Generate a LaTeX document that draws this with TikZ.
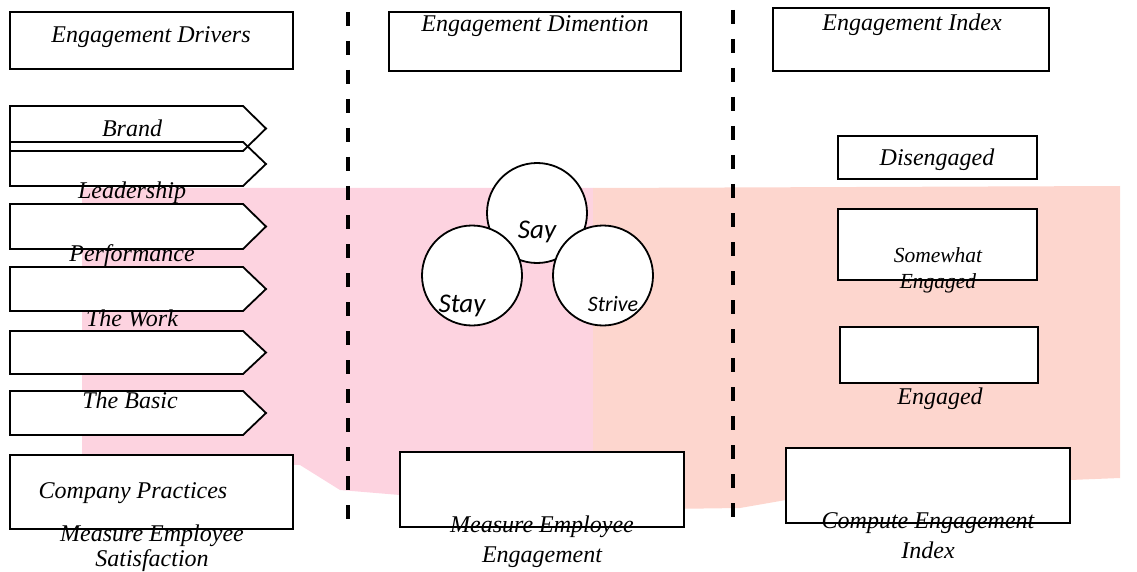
\documentclass[tikz,border=0pt]{standalone}
\usepackage{fontspec}
\setmainfont{Liberation Serif}
\newfontfamily\calib{Carlito}
\usetikzlibrary{positioning}
\definecolor{blush}{RGB}{253,211,224}
\definecolor{salmon}{RGB}{253,214,206}

\begin{document}
\begin{tikzpicture}[
    x=1pt, y=-1pt,
    box/.style={rectangle, draw, line width=1.8pt, fill=white, inner sep=0pt},
    circ/.style={circle, draw, line width=1.8pt, fill=white, minimum size=100pt, inner sep=0pt},
    chev/.style={line width=1.8pt, line join=miter},
    sep/.style={line width=3.2pt, dash pattern=on 14pt off 15pt},
    lbl/.style={font=\fontsize{24}{27}\selectfont\itshape, inner sep=0pt, anchor=base, align=center},
    sml/.style={font=\fontsize{21.5}{26}\selectfont\itshape, inner sep=0pt, anchor=base, align=center},
    dim/.style={font=\fontsize{#1}{#1}\selectfont\calib\itshape, inner sep=0pt, anchor=base}
  ]
  \useasboundingbox (0,0) rectangle (1137,572);

  %% Background wash
  \fill[blush] (82,188) -- (593,188) -- (593,505) -- (400,495) -- (340,490)
    -- (300,465) -- (82,463) -- cycle;
  \fill[salmon] (593,188) -- (1120,186) -- (1120,478) -- (1070,480)
    -- (786,500) -- (740,508) -- (593,510) -- cycle;

  %% Column separators
  \coordinate (s1t) at (348,12);
  \coordinate (s1b) at (348,520);
  \coordinate (s2t) at (733,10);
  \coordinate (s2b) at (733,520);
  \draw[sep] (s1t) -- (s1b);
  \draw[sep] (s2t) -- (s2b);

  %% Boxes
  \foreach \name/\cx/\cy/\w/\h in {drv/151.5/40.5/283/57, cpr/151.5/492/283/74,
      dmn/535/41.5/292/59, mee/542/489.5/284/75, idx/911/39.5/276/63,
      dis/937.5/157.5/199/43, swe/937.5/244.5/199/71, eng/939/355/198/56,
      cei/928/485.5/284/75}{
    \node[box, minimum width=\w pt, minimum height=\h pt] (\name) at (\cx,\cy) {};
  }

  %% Driver chevrons
  \foreach \t/\b in {106/151, 142/186, 204/249, 267/311, 331/374, 391/435}{
    \fill[white] (10,\t) -- (243,\t) -- (266,{(\t+\b)/2}) -- (243,\b) -- (10,\b) -- cycle;
  }
  \foreach \t/\b in {106/151, 142/186, 204/249, 267/311, 331/374, 391/435}{
    \draw[chev] (10,\t) -- (243,\t) -- (266,{(\t+\b)/2}) -- (243,\b) -- (10,\b) -- cycle;
  }

  %% Say / Stay / Strive
  \node[circ] (say) at (537,213) {};
  \node[circ] (stay) at (472,275.5) {};
  \node[circ] (strive) at (603,275.5) {};
  \node[dim=27] (sayl) at (537,238) {Say};
  \node[dim=27] (stayl) at (462,312) {Stay};
  \node[dim=22] (strivel) at (613,311) {Strive};

  %% Column 1 labels
  \node[lbl] (drvl) at (151,43) {Engagement Drivers};
  \node[lbl] (brand) at (132,137) {Brand};
  \node[lbl] (lead) at (132,199) {Leadership};
  \node[lbl] (perf) at (132,261) {Performance};
  \node[lbl] (work) at (132,326) {The Work};
  \node[lbl] (basic) at (130,408) {The Basic};
  \node[lbl] (cprl) at (133,498) {Company Practices};
  \node[lbl, font=\fontsize{24}{25}\selectfont\itshape] (mes) at (152,566)
    {Measure Employee\\Satisfaction};

  %% Column 2 labels
  \node[lbl] (dmnl) at (535,32) {Engagement Dimention};
  \node[lbl, font=\fontsize{24}{30}\selectfont\itshape] (meel) at (542,562)
    {Measure Employee\\Engagement};

  %% Column 3 labels
  \node[lbl] (idxl) at (912,31) {Engagement Index};
  \node[lbl] (disl) at (937,166) {Disengaged};
  \node[sml] (swel) at (938,288) {Somewhat\\Engaged};
  \node[lbl] (engl) at (940,404) {Engaged};
  \node[lbl, font=\fontsize{24}{30}\selectfont\itshape] (ceil) at (928,558)
    {Compute Engagement\\Index};

\end{tikzpicture}
\end{document}
